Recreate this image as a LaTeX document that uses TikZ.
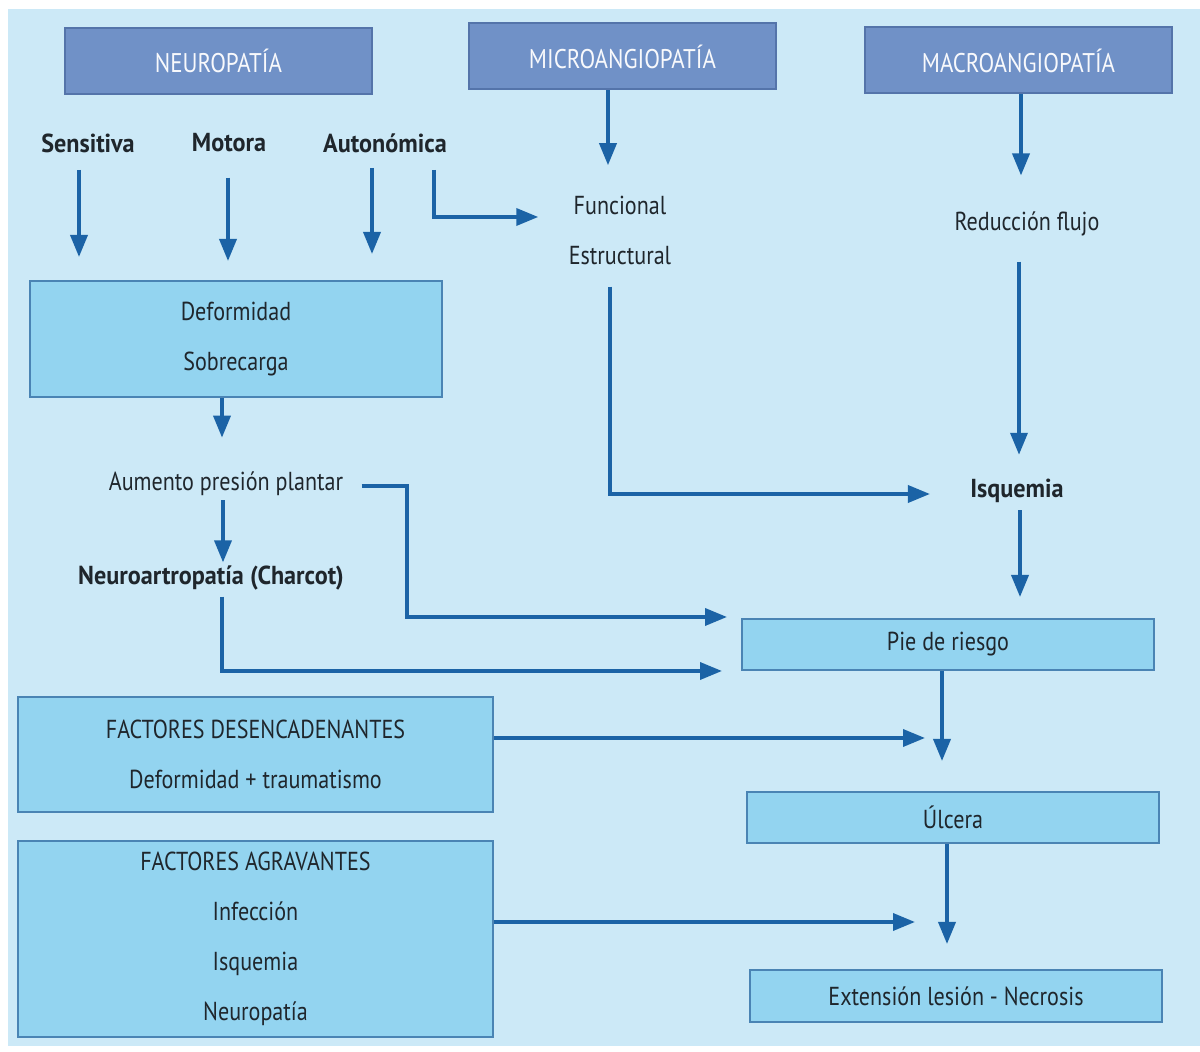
\documentclass[tikz,border=0pt]{standalone}
\usepackage{fontspec}
\setmainfont{PT Sans}[FakeStretch=0.85,BoldFeatures={FakeStretch=0.93}]
\usetikzlibrary{arrows.meta,calc}
\definecolor{bg}{HTML}{CCE9F7}
\definecolor{hdr}{HTML}{7091C7}
\definecolor{hdrline}{HTML}{5474AA}
\definecolor{boxfill}{HTML}{93D4F0}
\definecolor{boxline}{HTML}{4A84B4}
\definecolor{arrowc}{HTML}{1B63A6}
\definecolor{txt}{HTML}{1F262C}
\begin{document}
\begin{tikzpicture}[x=0.5pt,y=-0.5pt,
  hdrbox/.style={draw=hdrline, fill=hdr, line width=1pt, text=white!95!hdr, inner sep=0pt,
    minimum width=153.5pt, minimum height=33pt, font=\fontsize{13.5}{16}\selectfont},
  lbox/.style={draw=boxline, fill=boxfill, line width=1pt, text=txt, inner sep=0pt,
    align=center, font=\fontsize{13}{25}\selectfont},
  lbl/.style={text=txt, inner sep=0pt, font=\fontsize{13}{15}\selectfont},
  blbl/.style={text=txt, inner sep=0pt, font=\fontsize{13}{15}\selectfont\bfseries},
  arr/.style={draw=arrowc, line width=1.8pt, -{Triangle[length=11pt,width=8.5pt]}},
  ln/.style={draw=arrowc, line width=1.8pt}
]
\useasboundingbox (0,0) rectangle (1200,1052);
\fill[white] (0,0) rectangle (1200,1052);
\fill[bg] (8,9) rectangle (1200,1046);

% header boxes
\node[hdrbox] (neuro) at (218.5,61) {NEUROPATÍA};
\node[hdrbox] (micro) at (622.5,56.5) {MICROANGIOPATÍA};
\node[hdrbox] (macro) at (1018.5,60.5) {MACROANGIOPATÍA};

% labels
\node[blbl] (sens) at (88,143) {Sensitiva};
\node[blbl] (mot) at (229,143) {Motora};
\node[blbl] (aut) at (385,143) {Autonómica};
\node[lbl] (func) at (620,205) {Funcional};
\node[lbl] (estr) at (620,256) {Estructural};
\node[lbl] (red) at (1027,224) {Reducción flujo};
\node[blbl] (isq) at (1017,491) {Isquemia};
\node[lbl] (aum) at (226,484) {Aumento presión plantar};
\node[blbl] (charc) at (211,578) {Neuroartropatía (Charcot)};

% light boxes
\node[lbox, minimum width=206pt, minimum height=58pt] (def) at (236,339) {Deformidad\\Sobrecarga};
\node[lbox, minimum width=206pt, minimum height=25.5pt] (pie) at (948,644.5) {Pie de riesgo};
\node[lbox, minimum width=206pt, minimum height=25.5pt] (ulc) at (953,817.5) {Úlcera};
\node[lbox, minimum width=206pt, minimum height=26pt] (ext) at (956,996) {Extensión lesión - Necrosis};
\node[lbox, minimum width=237.5pt, minimum height=57.5pt] (fdes) at (255.5,754.5) {FACTORES DESENCADENANTES\\Deformidad + traumatismo};
\node[lbox, minimum width=237.5pt, minimum height=98pt] (fagr) at (255.5,939) {FACTORES AGRAVANTES\\Infección\\Isquemia\\Neuropatía};

\coordinate (jdes) at (925,738);
\coordinate (jagr) at (915,922);
\coordinate (bend) at (407,486);

% connectors
\draw[arr, shorten <=8.5pt, shorten >=11.5pt] (sens.south -| 79,0) -- (def.north -| 79,0);
\draw[arr, shorten <=12.5pt, shorten >=9.5pt] (mot.south -| 228,0) -- (def.north -| 228,0);
\draw[arr, shorten <=7.5pt, shorten >=13pt] (aut.south -| 372,0) -- (def.north -| 372,0);
\draw[arr, shorten <=8.5pt, shorten >=17.5pt] (aut.south -| 434,0) |- (func.west |- 0,217);
\draw[arr, shorten >=15pt] (micro.south -| 608,0) -- (func.north -| 608,0);
\draw[arr, shorten >=18pt] (macro.south -| 1021,0) -- (red.north -| 1021,0);
\draw[arr, shorten <=12.5pt, shorten >=12pt] (red.south -| 1019,0) -- (isq.north -| 1019,0);
\draw[arr, shorten <=10.5pt, shorten >=20pt] (estr.south -| 610,0) |- (isq.west |- 0,494);
\draw[arr, shorten <=3.5pt, shorten >=10.5pt] (isq.south -| 1020,0) -- (pie.north -| 1020,0);
\draw[arr, shorten >=17pt] (def.south -| 222,0) -- (aum.north -| 222,0);
\draw[arr, shorten <=2pt, shorten >=1.5pt] (aum.south -| 223,0) -- (charc.north -| 223,0);
\draw[arr, shorten <=9pt, shorten >=7pt] (aum.east |- bend) -- (bend) |- (pie.west |- 0,617);
\draw[arr, shorten <=3pt, shorten >=9.5pt] (charc.south -| 222,0) |- (pie.west |- 0,671);
\draw[arr, shorten >=15pt] (pie.south -| 942,0) -- (ulc.north -| 942,0);
\draw[arr] (fdes.east |- jdes) -- (jdes);
\draw[arr, shorten >=12.5pt] (ulc.south -| 947,0) -- (ext.north -| 947,0);
\draw[arr] (fagr.east |- jagr) -- (jagr);
\end{tikzpicture}
\end{document}
